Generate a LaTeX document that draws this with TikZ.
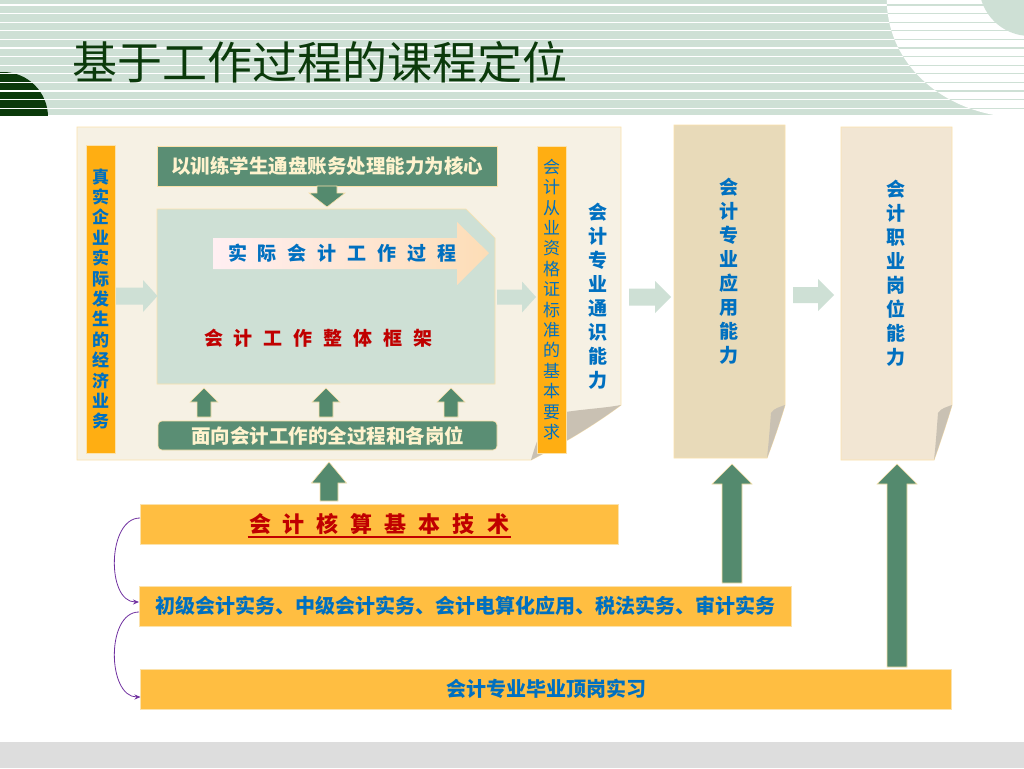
\documentclass[tikz,border=0pt]{standalone}
\usepackage{fontspec}
\newfontfamily\hei{Noto Sans CJK SC}
\usepackage{tikz}
\usetikzlibrary{positioning, arrows.meta, calc}

\definecolor{band}{HTML}{CEE0D5}
\definecolor{deepgreen}{HTML}{0B3A0B}
\definecolor{panelfill}{HTML}{F6F1E4}
\definecolor{noteA}{HTML}{E8DAB9}
\definecolor{noteB}{HTML}{F2E6D3}
\definecolor{edge}{HTML}{FBE2AC}
\definecolor{strip}{HTML}{FFAE12}
\definecolor{barfill}{HTML}{FFBE41}
\definecolor{boxgreen}{HTML}{5A8E74}
\definecolor{arrgreen}{HTML}{548A6E}
\definecolor{txtblue}{HTML}{0070C0}
\definecolor{txtred}{HTML}{C00000}
\definecolor{txtcream}{HTML}{FFF3CE}
\definecolor{curl}{HTML}{C9C1B3}
\definecolor{footgray}{HTML}{DDDDDD}
\definecolor{purp}{HTML}{7030A0}
\definecolor{grA}{HTML}{FFEFF2}
\definecolor{grB}{HTML}{F9A47F}
\definecolor{grC}{HTML}{FDDDB6}

% block arrows: style, x, y start, y tip, shaft half width, head half width, head length
\newcommand\vblock[7]{\filldraw[#1] ({#2-#5},#3) -- ({#2-#5},{#4+(#7)}) -- ({#2-#6},{#4+(#7)}) -- (#2,#4)
  -- ({#2+#6},{#4+(#7)}) -- ({#2+#5},{#4+(#7)}) -- ({#2+#5},#3) -- cycle;}
% style, y, x start, x tip, shaft half width, head half width, head length
\newcommand\hblock[7]{\filldraw[#1] (#3,{#2-#5}) -- ({#4-(#7)},{#2-#5}) -- ({#4-(#7)},{#2-#6}) -- (#4,#2)
  -- ({#4-(#7)},{#2+#6}) -- ({#4-(#7)},{#2+#5}) -- (#3,{#2+#5}) -- cycle;}
\newcommand\chgap{\hspace{11pt}}

\begin{document}
\begin{tikzpicture}[x=1pt, y=-1pt,
  plainbox/.style={inner sep=0pt, outer sep=0pt},
  yellowbar/.style={plainbox, fill=barfill, draw=edge, line width=0.8pt, text=txtblue, font=\hei\bfseries\fontsize{20}{24}\selectfont},
  greenbox/.style={plainbox, fill=boxgreen, draw=edge, line width=0.6pt, text=txtcream, font=\hei\bfseries\fontsize{19.5}{24}\selectfont},
  stripbox/.style={plainbox, fill=strip, draw=edge, line width=0.8pt, align=center, text=txtblue},
  vtext/.style={align=center, inner sep=0pt, text=txtblue},
  darrow/.style={fill=arrgreen, draw=edge, line width=0.6pt},
  larrow/.style={fill=band, draw=none},
  sidearrow/.style={draw=purp, line width=0.8pt, -{Stealth[length=6pt,width=5pt]}},
]
\useasboundingbox (0,0) rectangle (1024,768);
\fill[white] (0,0) rectangle (1024,768);

% header band with stripes
\fill[band] (0,0) rectangle (1024,115);
\begin{scope}
  \clip (0,0) rectangle (1024,115);
  \fill[deepgreen] (3,117) circle[radius=45];
\end{scope}
\foreach \k in {0,...,12}
  \draw[white, line width=1.2pt] (0,{5+8.6*\k}) -- (1024,{5+8.6*\k});
\begin{scope}
  \clip (886.7,-1) .. controls (887,60) and (935,104) .. (994,115) -- (1024,117) -- (1024,-1) -- cycle;
  \fill[white] (0,0) rectangle (1024,115);
  \foreach \k in {0,...,12}
    \draw[band, line width=1.2pt] (0,{5+8.6*\k}) -- (1024,{5+8.6*\k});
\end{scope}
\fill[band] (1030,-15) circle[radius=51];
\node[anchor=west, inner sep=0pt, text=deepgreen, font=\hei\fontsize{45}{45}\selectfont] (title) at (72,62) {基于工作过程的课程定位};

% footer
\fill[footgray] (0,742) rectangle (1024,768);

% big panel with curled corner
\filldraw[fill=panelfill, draw=edge, line width=0.8pt] (77,127) -- (621,127) -- (621,405) .. controls (590,428) and (560,445) .. (531,460) -- (77,460) -- cycle;
\fill[curl] (621,405) .. controls (600,409) and (565,410) .. (548,416) .. controls (540,432) and (535,446) .. (531,460) .. controls (560,445) and (590,428) .. (621,405) -- cycle;

% notes on the right
\filldraw[fill=noteA, draw=edge, line width=0.8pt] (674,125) -- (785,125) -- (785,405) .. controls (779,425) and (773,442) .. (767,458) -- (674,458) -- cycle;
\fill[curl] (785,405) .. controls (779,425) and (773,442) .. (767,458) .. controls (769,440) and (770,425) .. (771,413) .. controls (774,408) and (780,407) .. (785,405) -- cycle;
\filldraw[fill=noteB, draw=edge, line width=0.8pt] (841,127) -- (952,127) -- (952,405) .. controls (946,425) and (940,443) .. (934,460) -- (841,460) -- cycle;
\fill[curl] (952,405) .. controls (946,425) and (940,443) .. (934,460) .. controls (936,442) and (937,425) .. (938,413) .. controls (941,408) and (947,407) .. (952,405) -- cycle;

% orange strips
\node[stripbox, minimum width=29pt, minimum height=308pt, font=\hei\bfseries\fontsize{17}{20.4}\selectfont] (real) at (100.5,299) {真\\实\\企\\业\\实\\际\\发\\生\\的\\经\\济\\业\\务};
\node[stripbox, minimum width=29pt, minimum height=307pt, font=\hei\fontsize{17}{20.4}\selectfont] (cert) at (551.5,299.5) {会\\计\\从\\业\\资\\格\\证\\标\\准\\的\\基\\本\\要\\求};

% work frame
\filldraw[fill=band, draw=edge, line width=0.6pt] (157,209) -- (466,209) -- (495,238) -- (495,384) -- (157,384) -- cycle;
\shade[left color=grA, middle color=grB, right color=grC] (213,238) -- (457,238) -- (457,222) -- (489,253) -- (457,285) -- (457,269) -- (213,269) -- cycle;
\node[plainbox, text=txtblue, font=\hei\bfseries\fontsize{19}{24}\selectfont] (proc) at (342.5,253) {实\chgap 际\chgap 会\chgap 计\chgap 工\chgap 作\chgap 过\chgap 程};
\node[plainbox, text=txtred, font=\hei\bfseries\fontsize{19}{24}\selectfont] (frame) at (318.5,338) {会\chgap 计\chgap 工\chgap 作\chgap 整\chgap 体\chgap 框\chgap 架};

\node[greenbox, minimum width=340pt, minimum height=40pt] (core) at (327,166) {以训练学生通盘账务处理能力为核心};
\node[greenbox, rounded corners=4pt, minimum width=339pt, minimum height=29pt] (posts) at (327.5,435.5) {面向会计工作的全过程和各岗位};

% ability texts
\node[vtext, font=\hei\bfseries\fontsize{19}{24}\selectfont] (general) at (598,296.5) {会\\计\\专\\业\\通\\识\\能\\力};
\node[vtext, font=\hei\bfseries\fontsize{19}{24}\selectfont] (applied) at (729,271.5) {会\\计\\专\\业\\应\\用\\能\\力};
\node[vtext, font=\hei\bfseries\fontsize{19}{24}\selectfont] (career) at (896,273.5) {会\\计\\职\\业\\岗\\位\\能\\力};

% bottom bars
\node[yellowbar, minimum width=478pt, minimum height=40pt, text=txtred, font=\hei\bfseries\fontsize{22}{24}\selectfont] (basic) at (379,524) {会\hspace{12pt}计\hspace{12pt}核\hspace{12pt}算\hspace{12pt}基\hspace{12pt}本\hspace{12pt}技\hspace{12pt}术};
\node[plainbox, minimum width=263pt, minimum height=22pt] (basictxt) at (379,526) {};
\draw[txtred, line width=1.8pt] (basictxt.south west) -- (basictxt.south east);
\node[yellowbar, minimum width=652pt, minimum height=40pt] (courses) at (465,606) {初级会计实务、中级会计实务、会计电算化应用、税法实务、审计实务};
\node[yellowbar, minimum width=811pt, minimum height=40pt] (intern) at (546,689) {会计专业毕业顶岗实习};

% block arrows
\vblock{darrow}{327}{186}{207}{10}{18}{-14}
\vblock{darrow}{204}{417}{388}{7}{14}{14}
\vblock{darrow}{326}{417}{388}{7}{14}{14}
\vblock{darrow}{451}{417}{388}{7}{14}{14}
\vblock{darrow}{329}{501}{462}{9}{17.5}{21}
\vblock{darrow}{732}{583}{464}{10}{20}{20}
\vblock{darrow}{897}{667}{464}{10}{20}{20}
\hblock{larrow}{296}{116}{157.5}{8.5}{16}{14.5}
\hblock{larrow}{297}{497}{536}{7.5}{15.5}{14}
\hblock{larrow}{297}{629}{671}{8.5}{16}{16}
\hblock{larrow}{295}{793}{834}{8}{16}{16}

% side links
\draw[sidearrow] ([yshift=6pt]basic.west) to[out=180, in=180] ([yshift=4pt]courses.west);
\draw[sidearrow] ([yshift=-6pt]courses.west) to[out=180, in=180] ([yshift=-8pt]intern.west);
\end{tikzpicture}
\end{document}
